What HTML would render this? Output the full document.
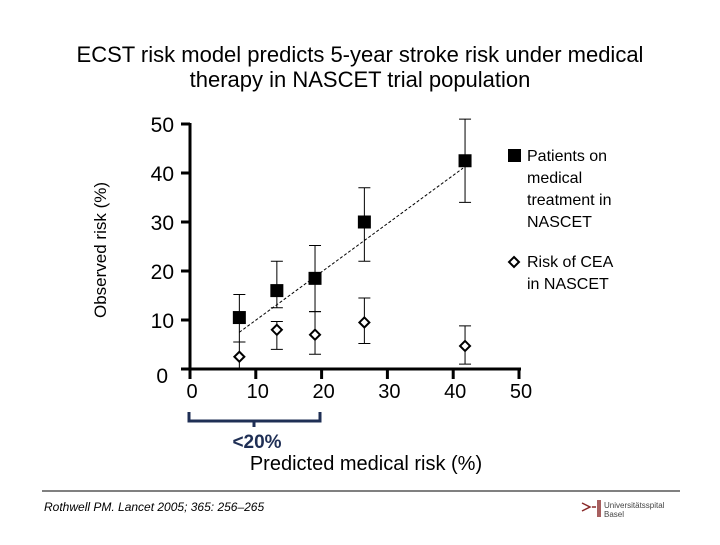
<!DOCTYPE html>
<html><head><meta charset="utf-8"><style>
body{margin:0;width:720px;height:540px;background:#fff;font-family:"Liberation Sans",sans-serif;overflow:hidden}
</style></head><body>
<svg width="720" height="540" viewBox="0 0 720 540" style="font-family:'Liberation Sans',sans-serif">
<text x="360" y="62" font-size="22" text-anchor="middle">ECST risk model predicts 5-year stroke risk under medical</text>
<text x="360" y="87" font-size="22" text-anchor="middle">therapy in NASCET trial population</text>
<text transform="translate(106,250) rotate(-90)" font-size="17" text-anchor="middle">Observed risk (%)</text>
<text x="366" y="470" font-size="20" text-anchor="middle">Predicted medical risk (%)</text>
<g id="axes"></g><g id="marks"></g>
<path d="M189,412 V421 H320 V412 M254,421 V427" stroke="#1f2f55" stroke-width="3" fill="none"/>
<text x="257" y="448" font-size="19" font-weight="bold" fill="#1f2f55" text-anchor="middle">&lt;20%</text>
<rect x="508" y="149" width="13" height="13" fill="#000"/>
<text font-size="16"><tspan x="527" y="161">Patients on</tspan><tspan x="527" y="183">medical</tspan><tspan x="527" y="205">treatment in</tspan><tspan x="527" y="227">NASCET</tspan></text>
<path d="M514,257 L519,262 L514,267 L509,262 Z" fill="#fff" stroke="#000" stroke-width="2"/>
<text font-size="16"><tspan x="527" y="267">Risk of CEA</tspan><tspan x="527" y="289">in NASCET</tspan></text>
<line x1="42" y1="491" x2="680" y2="491" stroke="#000" stroke-width="1"/>
<text x="44" y="511" font-size="12" font-style="italic">Rothwell PM. Lancet 2005; 365: 256–265</text>
<g><path d="M582,503 L590,507 L582,511 M592,507 H596 M598,500 V517 M600,500 V517" stroke="#8a2a2a" stroke-width="1.5" fill="none"/><text x="604" y="508" font-size="8" fill="#444">Universitätsspital</text><text x="604" y="517" font-size="8" fill="#444">Basel</text></g>
</svg>
<script>
const xTicks=[0,10,20,30,40,50];
const yTicks=[0,10,20,30,40,50];
const predicted=[7.5,13.2,19,26.5,41.8];
const observed=[10.5,16,18.5,30,42.5];
const obsLow=[5.5,12.5,11.7,22,34];
const obsHigh=[15.2,22,25.2,37,51];
const cea=[2.5,8,7,9.5,4.7];
const ceaLow=[0,4,3,5.2,1];
const ceaHigh=[5.5,9.7,11.7,14.5,8.8];
const trend=[[7.5,7.5],[41.5,41]];
const NS='http://www.w3.org/2000/svg';
const X=v=>190+v*6.58, Y=v=>369-v*4.9;
function mk(p,t,a){const e=document.createElementNS(NS,t);for(const k in a)e.setAttribute(k,a[k]);p.appendChild(e);return e;}
const ax=document.getElementById('axes'), mg=document.getElementById('marks');
let e=mk(ax,'line',{x1:X(0),y1:Y(0),x2:X(50)+2,y2:Y(0),stroke:'#000','stroke-width':3});


e=mk(ax,'line',{x1:X(0),y1:Y(0)+1,x2:X(0),y2:Y(50)-1,stroke:'#000','stroke-width':3});


xTicks.forEach(t=>{
 e=mk(ax,'line',{x1:X(t),y1:Y(0),x2:X(t),y2:Y(0)+10,stroke:'#000','stroke-width':3});
 
 
 e=mk(ax,'text',{x:X(t)+2,y:398,'font-size':20,'text-anchor':'middle'});e.textContent=t;
 
 
});
yTicks.forEach(t=>{
 e=mk(ax,'line',{x1:X(0)-9,y1:Y(t),x2:X(0),y2:Y(t),stroke:'#000','stroke-width':3});
 
 
 e=mk(ax,'text',{x:t===0?168:174,y:Y(t)+(t===0?14:8),'font-size':21,'text-anchor':'end'});e.textContent=t;
 
 
});
e=mk(mg,'line',{x1:X(trend[0][0]),y1:Y(trend[0][1]),x2:X(trend[1][0]),y2:Y(trend[1][1]),stroke:'#000','stroke-width':1,'stroke-dasharray':'3,2'});


function err(x,lo,hi,name){const px=X(x);
 e=mk(mg,'path',{d:`M${px},${Y(lo)}V${Y(hi)}M${px-6},${Y(lo)}H${px+6}M${px-6},${Y(hi)}H${px+6}`,stroke:'#000','stroke-width':1,fill:'none'});
 
 }
predicted.forEach((p,i)=>{
 err(p,ceaLow[i],ceaHigh[i],'cea-error-bar');
 e=mk(mg,'path',{d:`M${X(p)},${Y(cea[i])-5}l5,5l-5,5l-5,-5z`,fill:'#fff',stroke:'#000','stroke-width':2});
 
 
 err(p,obsLow[i],obsHigh[i],'observed-error-bar');
 e=mk(mg,'rect',{x:X(p)-6.5,y:Y(observed[i])-6.5,width:13,height:13,fill:'#000'});
 
 
});
</script>
</body></html>
